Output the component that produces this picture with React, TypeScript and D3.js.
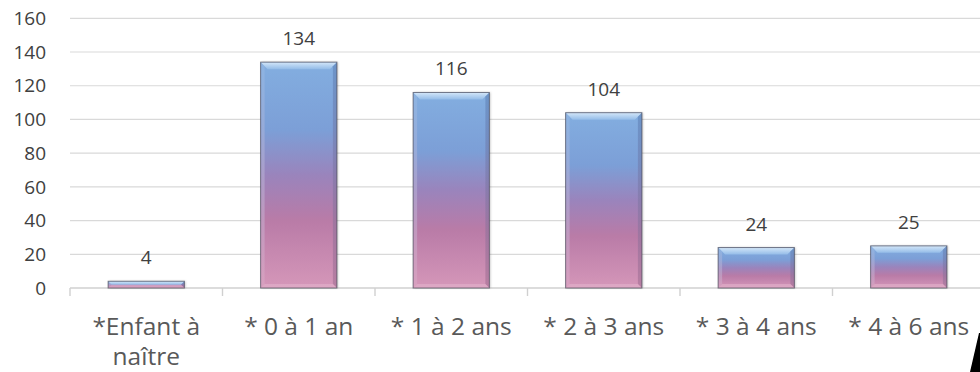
import React from "react";
import * as d3 from "d3";

const categories = ["*Enfant à naître", "* 0 à 1 an", "* 1 à 2 ans", "* 2 à 3 ans", "* 3 à 4 ans", "* 4 à 6 ans"];
const categoryLines = [["*Enfant à", "naître"], ["* 0 à 1 an"], ["* 1 à 2 ans"], ["* 2 à 3 ans"], ["* 3 à 4 ans"], ["* 4 à 6 ans"]];
const values = [4, 134, 116, 104, 24, 25];
const yTicks = [0, 20, 40, 60, 80, 100, 120, 140, 160];

const W = 980;
const H = 372;
const FONT = "'Open Sans', 'Noto Sans', sans-serif";

export default function App() {
  const x = d3.scaleBand<string>().domain(categories).range([70, 985]).paddingInner(0.5).paddingOuter(0.25);
  const y = d3.scaleLinear().domain([0, 160]).range([288, 18.3]);
  const step = x.step();
  const bw = x.bandwidth();
  const boundaries = d3.range(categories.length + 1).map((i) => 70 + i * step);

  return (
    <svg width={W} height={H} style={{ position: "absolute", left: 0, top: 0, background: "#fff" }} fontFamily={FONT}>
      <defs>
        <linearGradient id="body" x1="0" y1="0" x2="0" y2="1">
          <stop offset="0" stopColor="#83aee0" />
          <stop offset="0.3" stopColor="#7c9fd7" />
          <stop offset="0.5" stopColor="#9a84bc" />
          <stop offset="0.7" stopColor="#b97ba7" />
          <stop offset="1" stopColor="#d597b9" />
        </linearGradient>
        <linearGradient id="topBevel" x1="0" y1="0" x2="0" y2="1">
          <stop offset="0" stopColor="#d4e7f9" />
          <stop offset="1" stopColor="#94bce8" />
        </linearGradient>
        <linearGradient id="rightShade" x1="0" y1="0" x2="0" y2="1">
          <stop offset="0" stopColor="#5a7fb5" />
          <stop offset="1" stopColor="#a06a8f" />
        </linearGradient>
        <linearGradient id="leftShade" x1="0" y1="0" x2="0" y2="1">
          <stop offset="0" stopColor="#93b8e4" />
          <stop offset="1" stopColor="#dba6c3" />
        </linearGradient>
        <filter id="shadow" x="-20%" y="-20%" width="140%" height="140%">
          <feDropShadow dx="1" dy="0" stdDeviation="1.2" floodColor="#000" floodOpacity="0.25" />
        </filter>
      </defs>

      {yTicks.slice(1).map((t) => (
        <line key={t} x1={70} x2={985} y1={y(t)} y2={y(t)} stroke="#d9d9d9" strokeWidth={1.2} />
      ))}
      <line x1={70} x2={985} y1={y(0)} y2={y(0)} stroke="#d0d0d0" strokeWidth={1.4} />
      {boundaries.map((b, i) => (
        <line key={i} x1={b} x2={b} y1={y(0)} y2={y(0) + 8} stroke="#d0d0d0" strokeWidth={1.4} />
      ))}

      {yTicks.map((t) => (
        <text key={t} x={46} y={y(t)} dy="0.35em" textAnchor="end" fontSize={19} fill="#404040">
          {t}
        </text>
      ))}

      {categories.map((c, i) => {
        const x0 = x(c)!;
        const top = y(values[i]);
        const bot = y(0);
        const h = bot - top;
        const b = Math.min(7, h / 2);
        const s = Math.min(4, h / 2);
        return (
          <g key={c}>
            <rect x={x0} y={top} width={bw} height={h} fill="url(#body)" filter="url(#shadow)" />
            <polygon
              points={`${x0},${top} ${x0 + bw},${top} ${x0 + bw - b},${top + b} ${x0 + b},${top + b}`}
              fill="url(#topBevel)"
            />
            <polygon
              points={`${x0 + bw},${top} ${x0 + bw},${bot} ${x0 + bw - s},${bot - s} ${x0 + bw - s},${top + Math.min(b, s)}`}
              fill="url(#rightShade)"
              opacity={0.55}
            />
            <polygon
              points={`${x0},${top} ${x0},${bot} ${x0 + s},${bot - s} ${x0 + s},${top + Math.min(b, s)}`}
              fill="url(#leftShade)"
              opacity={0.6}
            />
            <polygon
              points={`${x0},${bot} ${x0 + bw},${bot} ${x0 + bw - s},${bot - s} ${x0 + s},${bot - s}`}
              fill="#e2b3cc"
              opacity={0.6}
            />
            <rect x={x0} y={top} width={bw} height={h} fill="none" stroke="#4a4a5a" strokeOpacity={0.7} strokeWidth={1} />
            <text x={x0 + bw / 2} y={top - 17} textAnchor="middle" fontSize={19} fill="#404040">
              {values[i]}
            </text>
          </g>
        );
      })}

      {categories.map((c, i) => (
        <text key={c} textAnchor="middle" fontSize={24.5} fill="#595959">
          {categoryLines[i].map((ln, j) => (
            <tspan key={j} x={x(c)! + bw / 2} y={335 + j * 30}>
              {ln}
            </tspan>
          ))}
        </text>
      ))}

      <polygon points="970,372 980,372 980,333 979,333" fill="#000" />
    </svg>
  );
}
